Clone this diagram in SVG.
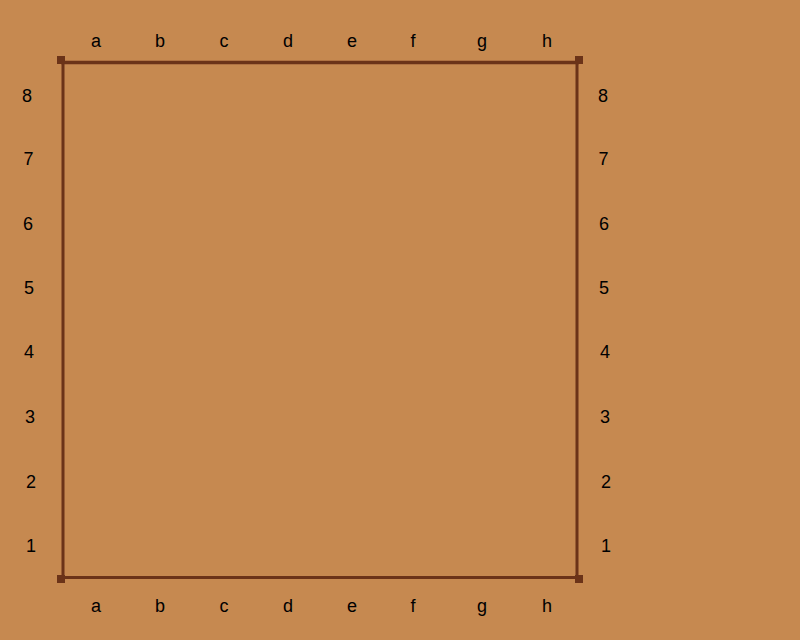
<svg xmlns="http://www.w3.org/2000/svg" width="800" height="640" viewBox="0 0 800 640">
<style>
.t{font-family:"Liberation Sans",Arial,sans-serif;font-size:18px;fill:#000;text-anchor:middle}
.e{stroke:#6b3318;fill:none}
.c{fill:#6b3318}
</style>
<rect width="800" height="640" fill="#c68950"/>
<g id="connectors">
<line class="e" x1="61" y1="62.5" x2="579" y2="62.5" stroke-width="3.5"/>
<line class="e" x1="63" y1="60" x2="63" y2="579" stroke-width="3"/>
<line class="e" x1="577" y1="60" x2="577" y2="579" stroke-width="3"/>
<line class="e" x1="61" y1="577.5" x2="579" y2="577.5" stroke-width="3"/>
</g>
<g id="corner-tl"><rect class="c" x="57" y="56" width="8" height="8"/></g>
<g id="corner-tr"><rect class="c" x="575" y="56" width="8" height="8"/></g>
<g id="corner-bl"><rect class="c" x="57" y="575" width="8" height="8"/></g>
<g id="corner-br"><rect class="c" x="575" y="575" width="8" height="8"/></g>
<g id="files-top">
<text class="t" x="96" y="47">a</text>
<text class="t" x="160" y="47">b</text>
<text class="t" x="224" y="47">c</text>
<text class="t" x="288" y="47">d</text>
<text class="t" x="352" y="47">e</text>
<text class="t" x="413" y="47">f</text>
<text class="t" x="482" y="47">g</text>
<text class="t" x="547" y="47">h</text>
</g>
<g id="files-bottom">
<text class="t" x="96" y="612">a</text>
<text class="t" x="160" y="612">b</text>
<text class="t" x="224" y="612">c</text>
<text class="t" x="288" y="612">d</text>
<text class="t" x="352" y="612">e</text>
<text class="t" x="413" y="612">f</text>
<text class="t" x="482" y="612">g</text>
<text class="t" x="547" y="612">h</text>
</g>
<g id="ranks-left">
<text class="t" x="27" y="102">8</text>
<text class="t" x="28.5" y="165">7</text>
<text class="t" x="28" y="230">6</text>
<text class="t" x="29" y="294">5</text>
<text class="t" x="29" y="358">4</text>
<text class="t" x="30" y="423">3</text>
<text class="t" x="31" y="488">2</text>
<text class="t" x="31" y="552">1</text>
</g>
<g id="ranks-right">
<text class="t" x="603" y="102">8</text>
<text class="t" x="603.5" y="165">7</text>
<text class="t" x="604" y="230">6</text>
<text class="t" x="604" y="294">5</text>
<text class="t" x="605" y="358">4</text>
<text class="t" x="605" y="423">3</text>
<text class="t" x="606" y="488">2</text>
<text class="t" x="606" y="552">1</text>
</g>
</svg>
